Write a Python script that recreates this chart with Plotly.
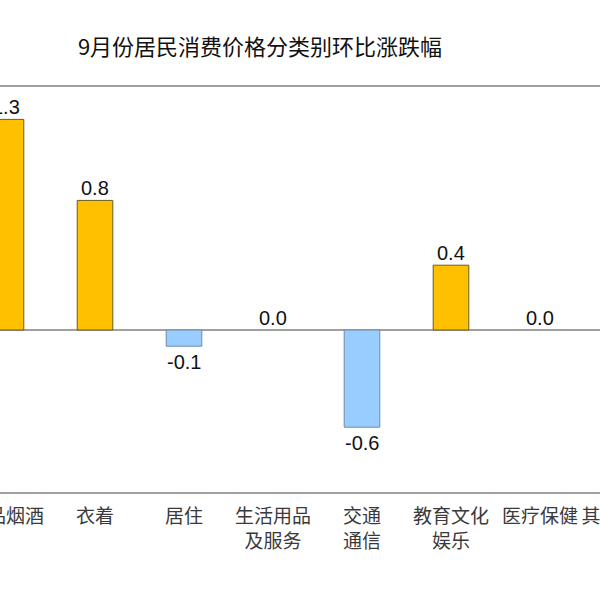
import plotly.graph_objects as go

categories = ["食品烟酒", "衣着", "居住", "生活用品<br>及服务", "交通<br>通信",
              "教育文化<br>娱乐", "医疗保健", "其他用品和<br>服务"]
values = [1.3, 0.8, -0.1, 0.0, -0.6, 0.4, 0.0, 0.2]
title_text = "9月份居民消费价格分类别环比涨跌幅"

pos_fill, neg_fill = "#FFC000", "#99CCFF"
pos_line, neg_line = "#6B5A22", "#6F8CA8"

idx = list(range(len(categories)))
fills = [pos_fill if v >= 0 else neg_fill for v in values]
lines = [pos_line if v >= 0 else neg_line for v in values]
line_w = [1 if v != 0 else 0 for v in values]

# the page is wider than the 600px window; the window shows a cropped view
fig_w = 690
r0, r1 = -6 / 89, (fig_w - 6) / 89

fig = go.Figure(go.Bar(
    x=idx, y=values, width=0.4,
    marker=dict(color=fills, line=dict(color=lines, width=line_w)),
    hoverinfo="skip",
))

val_font = dict(family="Liberation Sans, Arial", size=20, color="#111111")
for i, v in zip(idx, values):
    fig.add_annotation(x=i, y=v, xref="x", yref="y", text=f"{v:.1f}",
                       showarrow=False, font=val_font,
                       yanchor="bottom" if v >= 0 else "top",
                       yshift=-1 if v >= 0 else -3)

tick_font = dict(family="Noto Sans CJK SC", size=19, color="#3a3a3a")

fig.update_layout(
    width=fig_w, height=600,
    template="none",
    paper_bgcolor="white", plot_bgcolor="white",
    margin=dict(l=0, r=0, t=87, b=108, pad=0),
    showlegend=False,
    title=dict(text=title_text, x=260 / fig_w, xanchor="center",
               y=1 - 47 / 600, yanchor="middle", yref="container",
               font=dict(family="Noto Sans CJK SC", size=22, color="#111111")),
    xaxis=dict(range=[r0, r1], tickmode="array", tickvals=idx, ticktext=categories,
               showline=True, mirror=True, linecolor="#A0A0A0", linewidth=2,
               showgrid=False, zeroline=False, ticks="", automargin=False,
               ticklabeloverflow="allow", ticklabelstandoff=6,
               tickfont=tick_font, fixedrange=True),
    yaxis=dict(range=[-1.0, 1.5], showticklabels=False, showgrid=False,
               zeroline=True, zerolinecolor="#A0A0A0", zerolinewidth=1.5,
               showline=False, ticks="", automargin=False, fixedrange=True),
)

fig.write_html(
    "out.html", config={"displayModeBar": False},
    post_script=("document.body.style.margin='0px';"
                 "document.body.style.overflow='hidden';"
                 "document.documentElement.style.overflow='hidden';"))
